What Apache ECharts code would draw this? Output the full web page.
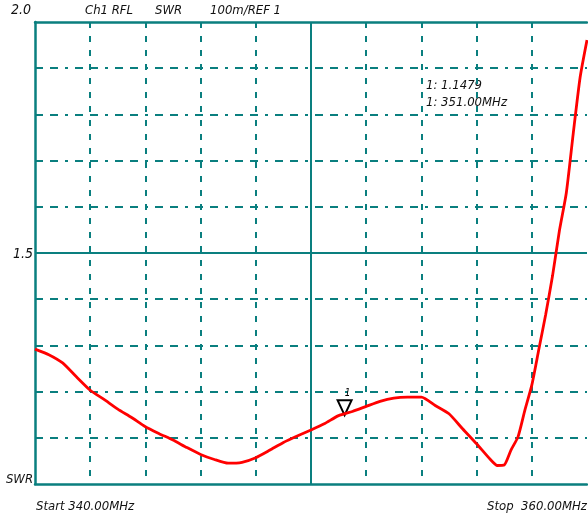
<!DOCTYPE html>
<html>
<head>
<meta charset="utf-8">
<script src="https://cdn.jsdelivr.net/npm/echarts@6/dist/echarts.min.js"></script>
<style>
html,body{margin:0;padding:0;background:#fff;}
#chart{width:588px;height:514px;}
</style>
</head>
<body>
<div id="chart"></div>
<script>
// Frequencies (MHz) and SWR values
const freqs = [340, 340.5, 341, 341.5, 342, 342.5, 343, 343.5, 344, 344.5,
  345, 345.5, 346, 346.5, 347, 347.5, 348, 348.5, 349, 349.5,
  350, 350.5, 351, 351.5, 352, 352.5, 353, 353.5, 354, 354.5,
  355, 355.5, 356, 356.5, 356.75, 357, 357.25, 357.5, 357.75, 358,
  358.25, 358.5, 358.75, 359, 359.25, 359.5, 359.75, 360];
const swr = [1.292, 1.280, 1.262, 1.232, 1.203, 1.183, 1.162, 1.144, 1.124, 1.109,
  1.095, 1.079, 1.064, 1.053, 1.045, 1.047, 1.057, 1.073, 1.090, 1.104,
  1.117, 1.131, 1.148, 1.157, 1.168, 1.179, 1.186, 1.188, 1.188, 1.170,
  1.152, 1.119, 1.087, 1.053, 1.040, 1.041, 1.074, 1.102, 1.160, 1.214,
  1.290, 1.366, 1.450, 1.548, 1.630, 1.758, 1.880, 1.961];
const yTicks = ['2.0', '1.5', 'SWR'];
const headerParts = ['Ch1 RFL', 'SWR', '100m/REF 1'];
const startLabel = 'Start 340.00MHz';
const stopLabel = 'Stop  360.00MHz';
const markerFreq = 351;
const markerValue = 1.1479;
const markerText = ['1: 1.1479', '1: 351.00MHz'];

const teal = '#0a7f7f';
const fontFam = '"Liberation Sans Narrow","DejaVu Sans Condensed","Liberation Sans",sans-serif';
const txt = (x, y, s, align, size) => ({
  type: 'text', x: x, y: y,
  style: { text: s, fill: '#111', font: 'italic ' + (size || 13) + 'px ' + fontFam, textAlign: align || 'left', textVerticalAlign: 'middle' }
});

const chart = echarts.init(document.getElementById('chart'));
chart.setOption({
  animation: false,
  backgroundColor: '#fff',
  grid: { left: 35, right: 1, top: 22, bottom: 30, containLabel: false },
  xAxis: [{
    type: 'value', min: 340, max: 360, interval: 2,
    axisLine: { show: true, lineStyle: { color: teal, width: 2.5 } },
    axisTick: { show: false }, axisLabel: { show: false },
    splitLine: { show: true, showMinLine: false, showMaxLine: false, lineStyle: { color: teal, width: 2, type: [6, 8] } }
  }, {
    type: 'value', position: 'top', min: 340, max: 360,
    axisLine: { show: true, lineStyle: { color: teal, width: 2.5 } },
    axisTick: { show: false }, axisLabel: { show: false }, splitLine: { show: false }
  }],
  yAxis: {
    type: 'value', min: 1, max: 2, interval: 0.1,
    axisLine: { show: true, lineStyle: { color: teal, width: 2.5 } },
    axisTick: { show: false }, axisLabel: { show: false },
    splitLine: { show: true, showMinLine: false, showMaxLine: false, lineStyle: { color: teal, width: 2, type: [8, 7, 8, 7, 3, 7] } }
  },
  series: [{
    type: 'line',
    data: freqs.map((f, i) => [f, swr[i]]),
    showSymbol: false,
    smooth: 0.2,
    lineStyle: { color: '#ff0000', width: 2.8 },
    z: 5,
    markLine: {
      silent: true, symbol: 'none', label: { show: false },
      lineStyle: { color: teal, width: 2, type: 'solid' },
      data: [{ xAxis: 350 }, { yAxis: 1.5 }],
      z: 3
    },
    markPoint: {
      silent: true,
      data: [{
        coord: [markerFreq, markerValue],
        symbol: 'path://M0,0 L10,0 L5,10 Z',
        symbolSize: [14, 15],
        symbolOffset: [6, -8],
        itemStyle: { color: 'rgba(0,0,0,0)', borderColor: '#000', borderWidth: 2 },
        label: { show: true, position: 'top', distance: 1, offset: [3, 0], formatter: '1', color: '#000', fontSize: 10, fontStyle: 'italic', fontFamily: fontFam }
      }]
    }
  }],
  graphic: [
    txt(31, 10, yTicks[0], 'right', 14),
    txt(33, 254, yTicks[1], 'right', 14),
    txt(33, 480, yTicks[2], 'right'),
    txt(85, 11, headerParts[0]),
    txt(155, 11, headerParts[1]),
    txt(210, 11, headerParts[2]),
    txt(36, 507, startLabel),
    txt(587, 507, stopLabel, 'right'),
    txt(426, 86, markerText[0]),
    txt(426, 103, markerText[1])
  ]
});
</script>
</body>
</html>
